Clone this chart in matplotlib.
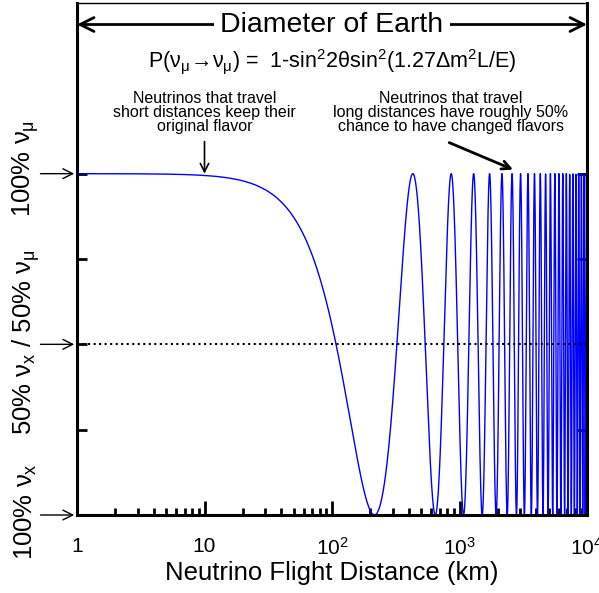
import numpy as np
import matplotlib
matplotlib.use('Agg')
import matplotlib.pyplot as plt
from matplotlib.ticker import FixedLocator, LogLocator, NullFormatter

plt.rcParams['font.family'] = ['Liberation Sans', 'DejaVu Sans']
plt.rcParams['mathtext.fontset'] = 'custom'
plt.rcParams['mathtext.rm'] = 'Liberation Sans'
plt.rcParams['mathtext.it'] = 'Liberation Sans'
plt.rcParams['mathtext.bf'] = 'Liberation Sans:bold'

# oscillation parameters (first dip near 215 km)
sin2_2theta = 1.0
dm2_eV2 = 2.5e-3
energy_GeV = 0.435
dist_min_km = 1
dist_max_km = 1e4

x_ticks = [1, 10, 100, 1000, 10000]
x_tick_labels = ['1', '10', r'10$^{2}$', r'10$^{3}$', r'10$^{4}$']
y_ticks = [0, 0.25, 0.5, 0.75, 1.0]
y_arrow_levels = [0, 0.5, 1.0]
y_labels = [r'100% $\nu_{x}$', r'50% $\nu_{x}$ / 50% $\nu_{\mu}$', r'100% $\nu_{\mu}$']
y_label_pos = [0.01, 0.507, 1.015]

L = np.logspace(np.log10(dist_min_km), np.log10(dist_max_km), 4000)
P = 1 - sin2_2theta * np.sin(1.27 * dm2_eV2 * L / energy_GeV) ** 2

fig = plt.figure(figsize=(5.99, 5.93), dpi=100)
ax = fig.add_axes([77 / 599, 78 / 593, 510 / 599, 512 / 593])

ax.plot(L, P, color='#0000ff', lw=1.0)
ax.axhline(0.5, color='black', ls=':', lw=1.5)

ax.set_xscale('log')
ax.set_xlim(dist_min_km, dist_max_km)
ax.set_ylim(0, 1.5)

# axes look
for side in ['left', 'bottom', 'right']:
    ax.spines[side].set_linewidth(2.2)
ax.spines['top'].set_linewidth(1.0)

ax.xaxis.set_major_locator(FixedLocator(x_ticks))
ax.set_xticklabels(x_tick_labels)
ax.xaxis.set_minor_locator(LogLocator(base=10, subs=np.arange(2, 10)))
ax.xaxis.set_minor_formatter(NullFormatter())
ax.tick_params(axis='x', which='major', direction='in', length=10, width=2,
               labelsize=15, pad=16, top=False)
ax.tick_params(axis='x', which='minor', direction='in', length=5, width=2, top=False)

ax.set_yticks(y_ticks)
ax.set_yticklabels([])
ax.tick_params(axis='y', direction='in', length=7, width=2, left=True, right=True)

ax.set_xlabel('Neutrino Flight Distance (km)', fontsize=18.5, labelpad=1)

# y labels and arrows pointing at the axis
for lab, yp in zip(y_labels, y_label_pos):
    ax.text(-0.1, yp, lab, transform=ax.get_yaxis_transform(), rotation=90,
            ha='center', va='center', fontsize=18.5)
for yv in y_arrow_levels:
    ax.annotate('', xy=(0, yv), xycoords=('axes fraction', 'data'),
                xytext=(-0.077, yv), textcoords=('axes fraction', 'data'),
                arrowprops=dict(arrowstyle='->,head_length=0.7,head_width=0.35', lw=1, color='black'),
                annotation_clip=False)

# diameter of earth arrow
ax.annotate('', xy=(1.0, 1.437), xycoords=('axes fraction', 'data'),
            xytext=(0.0, 1.437), textcoords=('axes fraction', 'data'),
            arrowprops=dict(arrowstyle='<->,head_length=1.0,head_width=0.5', lw=2, color='black',
                            shrinkA=0, shrinkB=0),
            annotation_clip=False)
ax.text(0.5, 1.437, 'Diameter of Earth', transform=ax.get_yaxis_transform(),
        ha='center', va='center', fontsize=20.5,
        bbox=dict(facecolor='white', edgecolor='none', pad=5))

ax.text(0.5, 1.328,
        r'P($\nu_{\mu}\!\rightarrow\!\nu_{\mu}$) =  1-sin$^{2}$2$\theta$sin$^{2}$(1.27$\Delta$m$^{2}$L/E)',
        transform=ax.get_yaxis_transform(), ha='center', va='center', fontsize=15.5)

ax.text(10, 1.179, 'Neutrinos that travel\nshort distances keep their\noriginal flavor',
        ha='center', va='center', fontsize=11.5, linespacing=0.95)
ax.annotate('', xy=(10, 1.0), xytext=(10, 1.094),
            arrowprops=dict(arrowstyle='->,head_length=0.6,head_width=0.3', lw=1.2, color='black',
                            shrinkA=0, shrinkB=0))

ax.text(857, 1.179, 'Neutrinos that travel\nlong distances have roughly 50%\nchance to have changed flavors',
        ha='center', va='center', fontsize=11.5, linespacing=0.95)
ax.annotate('', xy=(2630, 1.012), xytext=(830, 1.091),
            arrowprops=dict(arrowstyle='->,head_length=0.6,head_width=0.3', lw=2, color='black',
                            shrinkA=0, shrinkB=0))

fig.savefig('out.png', dpi=100)
